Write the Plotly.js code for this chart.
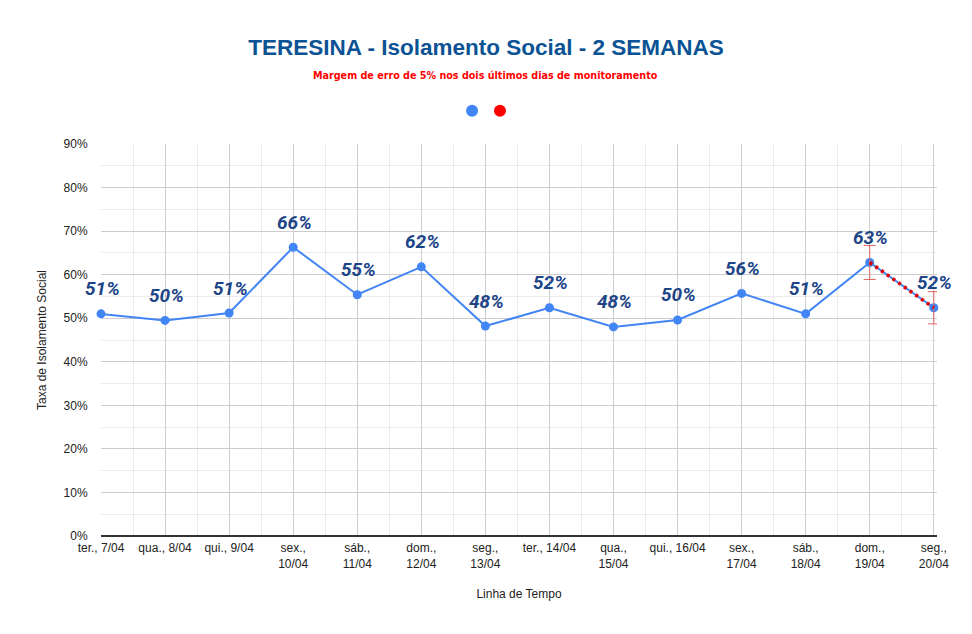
<!DOCTYPE html>
<html>
<head>
<meta charset="utf-8">
<script src="https://cdn.plot.ly/plotly-3.0.1.min.js"></script>
<style>
  body { margin: 0; background: #fff; }
  #chart { width: 972px; height: 634px; }
</style>
</head>
<body>
<div id="chart"></div>
<script>
// dias monitorados (rótulos do eixo x)
var dias = ['ter., 7/04', 'qua., 8/04', 'qui., 9/04', 'sex.,<br>10/04', 'sáb.,<br>11/04',
    'dom.,<br>12/04', 'seg.,<br>13/04', 'ter., 14/04', 'qua.,<br>15/04', 'qui., 16/04',
    'sex.,<br>17/04', 'sáb.,<br>18/04', 'dom.,<br>19/04', 'seg.,<br>20/04'];

// taxa de isolamento (%)
var isolamento = [51.0, 49.5, 51.2, 66.3, 55.4, 61.8, 48.2, 52.4, 48.0, 49.6, 55.7, 51.0, 62.8, 52.4];

// últimos dois dias, com margem de erro
var ultimosDias = [12, 13];
var margemErro = [3.9, 3.7];

var idx = dias.map(function (d, i) { return i; });
var rotulos = isolamento.map(function (v) { return Math.round(v) + '%'; });

var trace1 = {
    x: idx,
    y: isolamento,
    mode: 'lines+markers',
    line: { color: '#4285f4', width: 2 },
    marker: { color: '#4285f4', size: 9 },
    showlegend: false,
    hoverinfo: 'none',
    cliponaxis: false
};

var trace2 = {
    x: ultimosDias,
    y: ultimosDias.map(function (i) { return isolamento[i]; }),
    mode: 'lines',
    line: { color: '#e00000', width: 3.5, dash: '3px,4px' },
    error_y: { type: 'data', array: margemErro, visible: true, color: '#e06666', thickness: 1, width: 6 },
    showlegend: false,
    hoverinfo: 'none',
    cliponaxis: false
};

// entradas da legenda (só os pontos), uma legenda para cada
var leg1 = { x: [null], y: [null], mode: 'markers', name: ' ', legend: 'legend',
    marker: { color: '#4285f4', size: 12 } };
var leg2 = { x: [null], y: [null], mode: 'markers', name: ' ', legend: 'legend2',
    marker: { color: '#ff0000', size: 12 } };

var data = [trace1, trace2, leg1, leg2];

// rótulos de valor acima dos pontos
var anotacoes = idx.map(function (i) {
    return {
        x: i, y: isolamento[i], text: rotulos[i],
        xref: 'x', yref: 'y', showarrow: false,
        xanchor: 'center', yanchor: 'middle', yshift: 25, xshift: 1,
        font: { family: 'Roboto, Arial, sans-serif', size: 19, color: '#1c4587', weight: 'bold', style: 'italic' }
    };
});
anotacoes.push({
    text: 'Margem de erro de 5% nos dois últimos dias de monitoramento',
    xref: 'paper', yref: 'paper', x: 0.4605, y: 1.175,
    xanchor: 'center', yanchor: 'middle', showarrow: false,
    font: { family: '"DejaVu Sans", Verdana, sans-serif', size: 9.6, color: '#ff0000', weight: 'bold' }
});

var legendaBase = {
    orientation: 'h', xanchor: 'left', y: 1.085, yanchor: 'middle',
    font: { size: 1 }, itemwidth: 30, bgcolor: 'rgba(0,0,0,0)'
};

var layout = {
    width: 972,
    height: 634,
    margin: { l: 101, r: 35, t: 144, b: 98 },
    paper_bgcolor: '#ffffff',
    plot_bgcolor: '#ffffff',
    font: { family: 'Arial, "Liberation Sans", sans-serif', size: 12, color: '#222222' },
    title: {
        text: 'TERESINA - Isolamento Social - 2 SEMANAS',
        font: { family: 'Arial, "Liberation Sans", sans-serif', size: 22.5, color: '#0b5394', weight: 'bold' },
        x: 0.5, xanchor: 'center', y: 0.926, yanchor: 'middle'
    },
    annotations: anotacoes,
    showlegend: true,
    legend: Object.assign({}, legendaBase, { x: 0.4199 }),
    legend2: Object.assign({}, legendaBase, { x: 0.4533 }),
    xaxis: {
        range: [0, 13.05],
        tickvals: idx,
        ticktext: dias,
        ticks: '',
        ticklabelstandoff: 3,
        showgrid: true,
        gridcolor: '#cccccc',
        gridwidth: 1,
        minor: { dtick: 0.5, tick0: 0, showgrid: true, gridcolor: '#ebebeb', gridwidth: 1 },
        zeroline: false,
        showline: false,
        fixedrange: true,
        tickfont: { size: 12, color: '#222222' },
        title: { text: 'Linha de Tempo', font: { size: 12, color: '#222222' }, standoff: 20 }
    },
    yaxis: {
        range: [0, 90],
        dtick: 10,
        ticksuffix: '%',
        showgrid: true,
        gridcolor: '#cccccc',
        gridwidth: 1,
        minor: { dtick: 5, showgrid: true, gridcolor: '#ebebeb', gridwidth: 1 },
        zeroline: true,
        zerolinecolor: '#333333',
        zerolinewidth: 1.5,
        showline: false,
        ticks: 'outside',
        ticklen: 10,
        tickcolor: '#ffffff',
        fixedrange: true,
        tickfont: { size: 12, color: '#222222' },
        title: { text: 'Taxa de Isolamento Social', font: { size: 12, color: '#222222' }, standoff: 14 }
    }
};

Plotly.newPlot('chart', data, layout, { displayModeBar: false, staticPlot: true });
</script>
</body>
</html>
